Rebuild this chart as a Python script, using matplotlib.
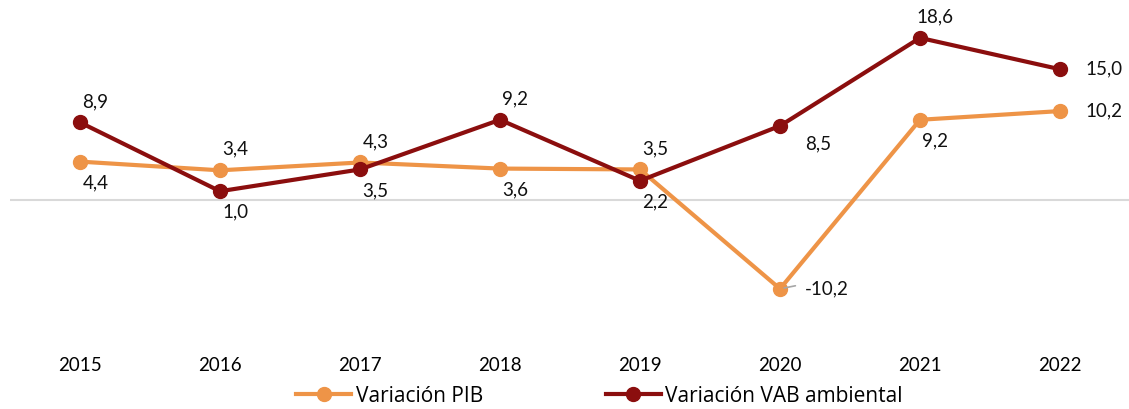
import matplotlib.pyplot as plt
from matplotlib.lines import Line2D

YEARS = ["2015", "2016", "2017", "2018", "2019", "2020", "2021", "2022"]
PIB = [4.4, 3.4, 4.3, 3.6, 3.5, -10.2, 9.2, 10.2]
VAB = [8.9, 1.0, 3.5, 9.2, 2.2, 8.5, 18.6, 15.0]
PIB_LABEL_POS = ["below", "above", "above", "below", "above", "right", "below", "right"]
VAB_LABEL_POS = ["above", "below", "below", "above", "below", "rightbelow", "above", "right"]

PIB_COLOR = "#EE9447"
VAB_COLOR = "#8B0E0E"

plt.rcParams["font.family"] = ["Lato", "DejaVu Sans"]

# offsets in points (dpi=100 -> 1px = 0.72pt)
OFFSETS = {
    "above": (11, 9, "center", "bottom"),
    "below": (11, -9, "center", "top"),
    "right": (18, 0, "left", "center"),
    "rightbelow": (18, -7, "left", "top"),
}


def fmt(v):
    return f"{v:.1f}".replace(".", ",")


def label(ax, xs, ys, positions):
    for x, y, pos in zip(xs, ys, positions):
        dx, dy, ha, va = OFFSETS[pos]
        ax.annotate(fmt(y), (x, y), xytext=(dx, dy), textcoords="offset points",
                    ha=ha, va=va, fontsize=13.5, color="#111111")


fig = plt.figure(figsize=(11.29, 4.09), dpi=100)
ax = fig.add_axes([10 / 1129, 1 - 335 / 409, 1120 / 1129, 325 / 409])

x = list(range(len(YEARS)))
ax.axhline(0, color="#D9D9D9", lw=1.5, zorder=1)
ax.plot(x, PIB, color=PIB_COLOR, lw=3, marker="o", ms=10, zorder=3,
        solid_capstyle="round")
ax.plot(x, VAB, color=VAB_COLOR, lw=3, marker="o", ms=10, zorder=4,
        solid_capstyle="round")

label(ax, x, PIB, PIB_LABEL_POS)
label(ax, x, VAB, VAB_LABEL_POS)

# small leader line next to -10,2
ax.annotate("", xy=(5, PIB[5]), xytext=(5.11, PIB[5] + 0.35),
            arrowprops=dict(arrowstyle="-", color="#A6A6A6", lw=1.2,
                            shrinkA=0, shrinkB=3))

ax.set_xlim(-0.5, 7.5)
ax.set_ylim(-15.5, 21.8)
ax.set_xticks(x)
ax.set_xticklabels(YEARS, fontsize=13.5)
ax.tick_params(axis="x", length=0, pad=16)
ax.set_yticks([])
for s in ax.spines.values():
    s.set_visible(False)

handles = [
    Line2D([], [], color=PIB_COLOR, lw=3, marker="o", ms=10),
    Line2D([], [], color=VAB_COLOR, lw=3, marker="o", ms=10),
]
fig.legend(handles, ["Variación PIB", "Variación VAB ambiental"],
           loc="center", bbox_to_anchor=(0.531, 1 - 396 / 409), ncol=2,
           frameon=False, handlelength=2.64, handletextpad=0.2,
           columnspacing=5.9, borderaxespad=0, borderpad=0,
           prop={"family": ["Open Sans", "DejaVu Sans"], "size": 15})

fig.savefig("out.png", dpi=100)
